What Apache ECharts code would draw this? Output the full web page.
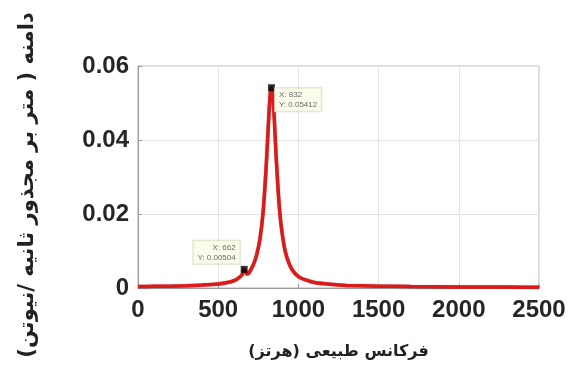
<!DOCTYPE html>
<html>
<head>
<meta charset="utf-8">
<script src="https://cdn.jsdelivr.net/npm/echarts@6/dist/echarts.min.js"></script>
<style>html,body{margin:0;padding:0;background:#fff}#c{width:572px;height:372px}</style>
</head>
<body>
<div id="c"></div>
<script>
// Frequency (Hz) and amplitude
var freq = [0, 100, 200, 300, 400, 500, 550, 600, 630, 650, 662, 670, 680, 690, 700, 720, 740, 760, 780, 800, 815, 825, 832, 840, 850, 860, 875, 890, 910, 930, 960, 1000, 1050, 1100, 1200, 1300, 1500, 1700, 2000, 2300, 2500];
var amp = [0.0004, 0.00045, 0.0005, 0.0006, 0.0008, 0.0011, 0.0014, 0.0020, 0.0028, 0.0037, 0.00504, 0.0042, 0.0038, 0.0040, 0.0047, 0.0064, 0.0090, 0.0132, 0.0205, 0.0335, 0.0460, 0.0527, 0.05412, 0.0521, 0.0455, 0.0365, 0.0255, 0.0178, 0.0116, 0.0080, 0.0050, 0.0031, 0.0021, 0.0015, 0.0010, 0.0007, 0.0005, 0.0004, 0.0003, 0.00025, 0.0002];
var tipX = [662, 832];
var tipY = [0.00504, 0.05412];
var xTicks = [0, 500, 1000, 1500, 2000, 2500];
var yTicks = [0, 0.02, 0.04, 0.06];
var xTitle = 'فرکانس طبیعی (هرتز)';
var yTitle = 'دامنه ( متر بر مجذور ثانیه /نیوتن)';

var lineData = freq.map(function (f, i) { return [f, amp[i]]; });
var tipData = tipX.map(function (f, i) {
  return {
    value: [f, tipY[i]],
    label: i === 0
      ? { position: [-1, -2], align: 'right', verticalAlign: 'bottom' }
      : { position: [7, 4], align: 'left', verticalAlign: 'top' }
  };
});

var chart = echarts.init(document.getElementById('c'));
var labelFont = 'Arial, "Liberation Sans", sans-serif';
var arFont = '"DejaVu Sans", Arial, sans-serif';
chart.setOption({
  animation: false,
  backgroundColor: '#fff',
  grid: { left: 138, right: 33, top: 66, bottom: 84, show: true, borderColor: '#b0b0b0', borderWidth: 1 },
  xAxis: {
    type: 'value', min: xTicks[0], max: xTicks[xTicks.length - 1], interval: 500,
    name: xTitle, nameLocation: 'middle', nameGap: 56,
    nameTextStyle: { fontFamily: arFont, fontSize: 16, fontWeight: 'bold', color: '#222' },
    axisLine: { lineStyle: { color: '#999' } },
    axisTick: { inside: true, length: 4, lineStyle: { color: '#999' } },
    axisLabel: { fontFamily: labelFont, fontSize: 24, fontWeight: 'bold', color: '#262626', margin: 10,
      formatter: function (v) { return String(v); } },
    splitLine: { show: true, lineStyle: { color: '#e3e3e3' } }
  },
  yAxis: {
    type: 'value', min: yTicks[0], max: yTicks[yTicks.length - 1], interval: 0.02,
    name: yTitle, nameLocation: 'middle', nameGap: 100, nameRotate: 90,
    nameTextStyle: { fontFamily: arFont, fontSize: 21, fontWeight: 'bold', color: '#222', padding: [0, 16, 0, 0] },
    axisLine: { show: true, lineStyle: { color: '#999' } },
    axisTick: { show: true, inside: true, length: 4, lineStyle: { color: '#999' } },
    axisLabel: { fontFamily: labelFont, fontSize: 24, fontWeight: 'bold', color: '#262626', margin: 9,
      formatter: function (v) { return v === 0 ? '0' : v.toFixed(2); } },
    splitLine: { show: true, lineStyle: { color: '#e3e3e3' } }
  },
  series: [
    {
      type: 'line', data: lineData, showSymbol: false, smooth: 0.2,
      lineStyle: { color: '#dc1a1a', width: 3.5, shadowColor: 'rgba(120,0,0,0.5)', shadowBlur: 1 },
      z: 2
    },
    {
      type: 'scatter', data: tipData, symbol: 'rect', symbolSize: 7,
      itemStyle: { color: '#000' },
      label: {
        show: true, fontFamily: labelFont, fontSize: 8, color: '#444', lineHeight: 10,
        backgroundColor: '#fbfbe8', borderColor: '#d8d8c0', borderWidth: 1, padding: [2, 4, 1, 4],
        formatter: function (p) { return 'X: ' + p.value[0] + '\nY: ' + p.value[1].toFixed(5); }
      },
      z: 5
    }
  ]
});
</script>
</body>
</html>
